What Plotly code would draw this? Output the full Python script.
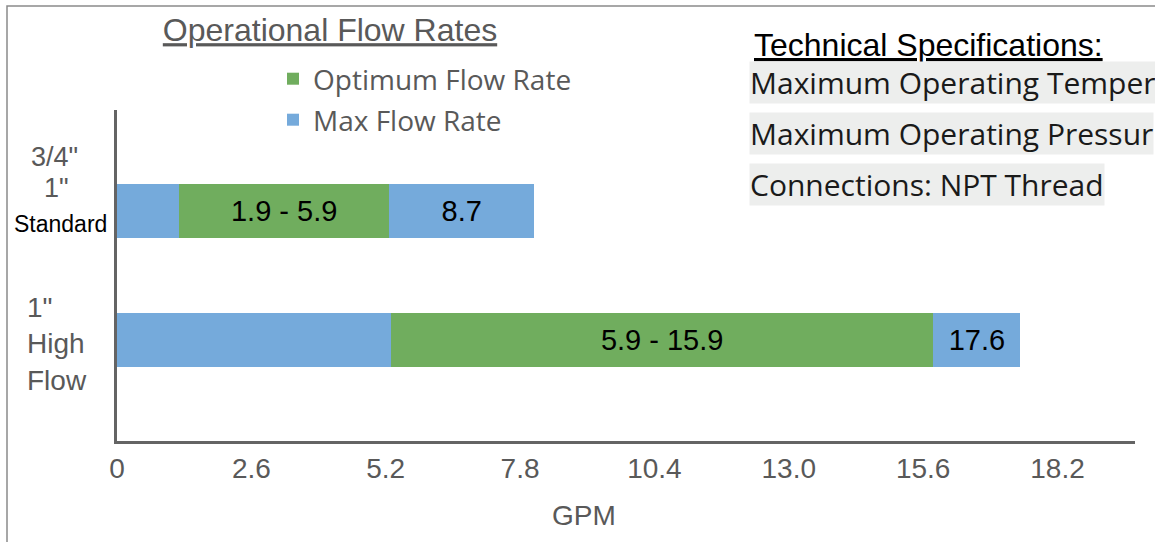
import plotly.graph_objects as go

# ---- data ----
categories = ["Standard", "High Flow"]
# segment lengths (GPM)
lower_max = [1.20, 5.30]
optimum = [4.07, 10.50]
upper_max = [2.80, 1.68]
optimum_labels = ["1.9 - 5.9", "5.9 - 15.9"]
max_labels = ["8.7", "17.6"]
tick_vals = [0, 2.6, 5.2, 7.8, 10.4, 13.0, 15.6, 18.2]
tick_text = ["0", "2.6", "5.2", "7.8", "10.4", "13.0", "15.6", "18.2"]
# specification lines as visible in the reference (cut at the right edge)
spec_lines = ["Maximum Operating Temper", "Maximum Operating Pressur",
              "Connections: NPT Thread"]

W, H = 1155, 542
ML, MR, MT, MB = 117, 20, 110, 101
PW, PH = W - ML - MR, H - MT - MB


def px(x):
    return (x - ML) / PW


def py(y):
    return (H - MB - y) / PH


BLUE = "#75AADB"
GREEN = "#70AD5E"
GRAY = "#595959"
AXIS = "#646464"
ARIAL = "Liberation Sans, Arial, sans-serif"
GEO = "Open Sans, Lato, sans-serif"

fig = go.Figure()
fig.add_trace(go.Bar(y=categories, x=lower_max, orientation="h", marker_color=BLUE,
                     marker_line_width=0,
                     name="Max Flow Rate", showlegend=False, hoverinfo="skip"))
fig.add_trace(go.Bar(y=categories, x=optimum, orientation="h", marker_color=GREEN,
                     marker_line_width=0,
                     name="Optimum Flow Rate", text=optimum_labels, legend="legend",
                     textposition="inside", insidetextanchor="middle", textangle=0,
                     constraintext="none",
                     textfont=dict(family=ARIAL, size=29, color="black")))
fig.add_trace(go.Bar(y=categories, x=upper_max, orientation="h", marker_color=BLUE,
                     marker_line_width=0,
                     name="Max Flow Rate", text=max_labels, legend="legend2",
                     textposition="inside", insidetextanchor="middle", textangle=0,
                     constraintext="none",
                     textfont=dict(family=ARIAL, size=29, color="black")))

fig.update_layout(
    width=W, height=H,
    margin=dict(l=ML, r=MR, t=MT, b=MB),
    paper_bgcolor="white", plot_bgcolor="white",
    barmode="stack", bargap=0.58,
    title=dict(text="<u>Operational Flow Rates</u>", x=px(330), xref="paper",
               xanchor="center", y=1 - 30 / H, yref="container", yanchor="middle",
               font=dict(family=ARIAL, size=32, color=GRAY)),
    xaxis=dict(range=[0, 19.7], tickvals=tick_vals, ticktext=tick_text,
               showgrid=False, zeroline=False, showline=True, linecolor=AXIS,
               linewidth=3, ticks="",
               tickfont=dict(family=ARIAL, size=28, color=GRAY)),
    yaxis=dict(type="category", categoryarray=categories, range=[1.78, -0.78],
               showticklabels=False, showgrid=False, zeroline=False, showline=True,
               linecolor=AXIS, linewidth=3, ticks=""),
    legend=dict(x=px(273), y=py(79), xanchor="left", yanchor="middle",
                bgcolor="rgba(0,0,0,0)", font=dict(family=GEO, size=28, color=GRAY)),
    legend2=dict(x=px(273), y=py(120), xanchor="left", yanchor="middle",
                 bgcolor="rgba(0,0,0,0)", font=dict(family=GEO, size=28, color=GRAY)),
    shapes=[dict(type="rect", xref="paper", yref="paper", x0=px(7), x1=px(1300),
                 y0=py(700), y1=py(6), line=dict(color="#8a8a8a", width=1.5),
                 fillcolor="rgba(0,0,0,0)", layer="below")],
)

ann = []
# y-axis labels
ann.append(dict(text='3/4"', x=px(54), y="Standard", yshift=54, xref="paper", yref="y",
                xanchor="center", yanchor="middle", showarrow=False,
                font=dict(family=ARIAL, size=27, color=GRAY)))
ann.append(dict(text='1"', x=px(56), y="Standard", yshift=23, xref="paper", yref="y",
                xanchor="center", yanchor="middle", showarrow=False,
                font=dict(family=ARIAL, size=27, color=GRAY)))
ann.append(dict(text="Standard", x=px(60), y="Standard", yshift=-13, xref="paper",
                yref="y", xanchor="center", yanchor="middle", showarrow=False,
                font=dict(family=ARIAL, size=23, color="black")))
ann.append(dict(text='1"<br>High<br>Flow', x=px(25), y="High Flow", yshift=-4,
                xref="paper", yref="y", xanchor="left", yanchor="middle", align="left",
                showarrow=False, font=dict(family=ARIAL, size=28, color=GRAY)))
# axis title
ann.append(dict(text="GPM", x=px(584), y=py(515), xref="paper", yref="paper",
                xanchor="center", yanchor="middle", showarrow=False,
                font=dict(family=ARIAL, size=28, color=GRAY)))
# technical specifications block
ann.append(dict(text="<u>Technical Specifications:</u>", x=px(752), y=py(45),
                xref="paper", yref="paper", xanchor="left", yanchor="middle",
                showarrow=False, font=dict(family=ARIAL, size=32, color="black")))
for txt, yc in zip(spec_lines, [83, 133.5, 184.5]):
    ann.append(dict(text=txt, x=px(749), y=py(yc), xref="paper", yref="paper",
                    xanchor="left", yanchor="middle", showarrow=False,
                    bgcolor="#EDEEED", borderpad=0,
                    font=dict(family=GEO, size=30, color="#1a1a1a")))
fig.update_layout(annotations=ann)

fig.write_html("out.html", config={"displayModeBar": False},
               post_script="document.body.style.margin='0px';")
